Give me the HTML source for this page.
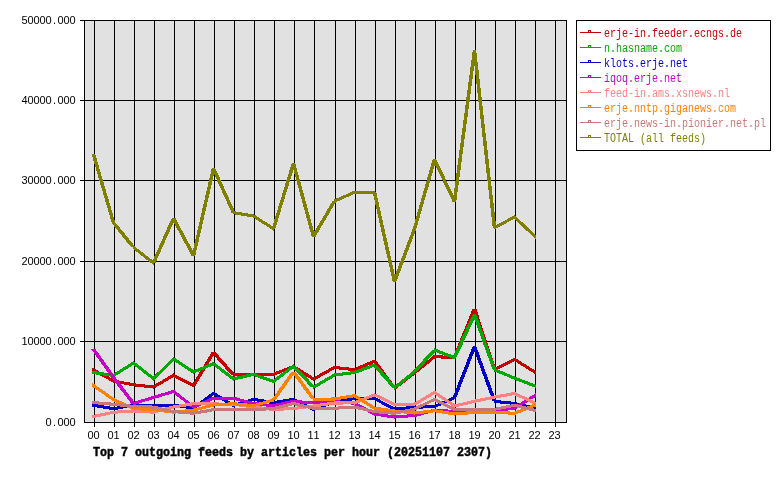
<!DOCTYPE html>
<html><head><meta charset="utf-8"><title>Top 7 outgoing feeds by articles per hour</title>
<style>html,body{margin:0;padding:0;background:#fff}svg{display:block}text{font-family:"Liberation Mono",monospace;font-size:12px}.b{font-weight:bold;stroke:#000;stroke-width:0.45px}.s{font-family:"Liberation Sans",sans-serif;font-size:11px}</style></head><body>
<svg width="780" height="480" viewBox="0 0 780 480">
<rect x="0" y="0" width="780" height="480" fill="#fff"/>
<g shape-rendering="crispEdges">
<rect x="84" y="20" width="483" height="403" fill="#e1e1e1"/>
<rect x="94" y="20" width="1" height="407" fill="#000"/>
<rect x="114" y="20" width="1" height="407" fill="#000"/>
<rect x="134" y="20" width="1" height="407" fill="#000"/>
<rect x="154" y="20" width="1" height="407" fill="#000"/>
<rect x="174" y="20" width="1" height="407" fill="#000"/>
<rect x="194" y="20" width="1" height="407" fill="#000"/>
<rect x="214" y="20" width="1" height="407" fill="#000"/>
<rect x="234" y="20" width="1" height="407" fill="#000"/>
<rect x="254" y="20" width="1" height="407" fill="#000"/>
<rect x="274" y="20" width="1" height="407" fill="#000"/>
<rect x="294" y="20" width="1" height="407" fill="#000"/>
<rect x="314" y="20" width="1" height="407" fill="#000"/>
<rect x="335" y="20" width="1" height="407" fill="#000"/>
<rect x="355" y="20" width="1" height="407" fill="#000"/>
<rect x="375" y="20" width="1" height="407" fill="#000"/>
<rect x="395" y="20" width="1" height="407" fill="#000"/>
<rect x="415" y="20" width="1" height="407" fill="#000"/>
<rect x="435" y="20" width="1" height="407" fill="#000"/>
<rect x="455" y="20" width="1" height="407" fill="#000"/>
<rect x="475" y="20" width="1" height="407" fill="#000"/>
<rect x="495" y="20" width="1" height="407" fill="#000"/>
<rect x="515" y="20" width="1" height="407" fill="#000"/>
<rect x="535" y="20" width="1" height="407" fill="#000"/>
<rect x="555" y="20" width="1" height="407" fill="#000"/>
<rect x="80" y="20" width="487" height="1" fill="#000"/>
<rect x="80" y="100" width="487" height="1" fill="#000"/>
<rect x="80" y="180" width="487" height="1" fill="#000"/>
<rect x="80" y="261" width="487" height="1" fill="#000"/>
<rect x="80" y="341" width="487" height="1" fill="#000"/>
<rect x="84" y="20" width="1" height="403" fill="#000"/>
<rect x="566" y="20" width="1" height="403" fill="#000"/>
<rect x="84" y="422" width="483" height="1" fill="#000"/>
</g>
<g shape-rendering="crispEdges" stroke="none">
<path fill="#c80000" d="M92.00,367.41L114.00,379.51L114.00,383.04L92.00,370.94ZM113.00,379.33L134.00,383.32L134.00,386.47L113.00,382.48ZM133.00,383.19L154.00,385.50L154.00,388.61L133.00,386.30ZM153.00,385.50L174.00,373.21L174.00,376.80L153.00,389.09ZM173.00,373.30L194.00,384.11L194.00,387.60L173.00,376.79ZM191.46,385.60L211.46,352.40L215.54,352.40L195.54,385.60ZM215.84,352.40L235.84,375.00L231.16,375.00L211.16,352.40ZM233.00,373.46L254.00,372.83L254.00,375.94L233.00,376.57ZM253.00,372.85L274.00,372.75L274.00,375.85L253.00,375.95ZM273.00,372.83L294.00,364.64L294.00,367.97L273.00,376.16ZM293.00,364.35L314.00,377.58L314.00,381.25L293.00,368.02ZM313.00,377.61L335.00,365.45L335.00,368.99L313.00,381.15ZM334.00,365.89L355.00,368.20L355.00,371.31L334.00,369.00ZM354.00,368.23L375.00,359.30L375.00,362.67L354.00,371.60ZM376.67,361.20L396.67,388.30L392.33,388.30L372.33,361.20ZM394.00,386.73L415.00,370.56L415.00,374.47L394.00,390.64ZM414.00,371.31L435.00,354.30L435.00,358.29L414.00,375.30ZM434.00,355.13L455.00,355.97L455.00,359.07L434.00,358.23ZM452.61,357.50L472.61,308.80L476.39,308.80L456.39,357.50ZM476.34,308.80L496.34,369.80L492.66,369.80L472.66,308.80ZM494.00,368.31L515.00,357.39L515.00,360.89L494.00,371.81ZM514.00,357.26L536.00,371.01L536.00,374.67L514.00,360.92Z"/>
<path fill="#00aa00" d="M92.00,370.71L114.00,374.01L114.00,377.14L92.00,373.84ZM113.00,373.98L134.00,360.86L134.00,364.52L113.00,377.64ZM133.00,360.64L154.00,377.02L154.00,380.96L133.00,364.58ZM153.00,376.92L174.00,356.34L174.00,360.68L153.00,381.26ZM173.00,356.83L194.00,370.48L194.00,374.17L173.00,360.52ZM193.00,370.53L214.00,361.81L214.00,365.17L193.00,373.89ZM213.00,361.37L234.00,377.43L234.00,381.33L213.00,365.27ZM233.00,377.52L254.00,372.69L254.00,375.88L233.00,380.71ZM253.00,372.58L274.00,380.03L274.00,383.32L253.00,375.87ZM273.00,379.93L294.00,363.76L294.00,367.67L273.00,383.84ZM295.91,366.10L315.91,387.30L311.09,387.30L291.09,366.10ZM313.00,385.80L335.00,372.91L335.00,376.50L313.00,389.39ZM334.00,373.50L355.00,370.88L355.00,374.00L334.00,376.62ZM354.00,371.03L375.00,363.16L375.00,366.47L354.00,374.34ZM376.83,365.00L396.83,387.80L392.17,387.80L372.17,365.00ZM394.00,386.22L415.00,369.52L415.00,373.48L394.00,390.18ZM412.13,371.90L432.13,350.00L436.87,350.00L416.87,371.90ZM434.00,348.15L455.00,356.23L455.00,359.55L434.00,351.47ZM452.57,357.70L472.57,314.40L476.43,314.40L456.43,357.70ZM476.36,314.40L496.36,369.80L492.64,369.80L472.64,314.40ZM494.00,367.91L515.00,376.63L515.00,379.99L494.00,371.27ZM514.00,376.25L536.00,384.72L536.00,388.04L514.00,379.57Z"/>
<path fill="#0000c8" d="M92.00,403.47L114.00,407.21L114.00,410.36L92.00,406.62ZM113.00,407.22L134.00,403.33L134.00,406.48L113.00,410.37ZM133.00,403.44L154.00,403.65L154.00,406.76L133.00,406.55ZM153.00,403.65L174.00,403.75L174.00,406.85L153.00,406.75ZM173.00,403.67L194.00,406.50L194.00,409.63L173.00,406.80ZM193.00,406.45L214.00,391.22L214.00,395.05L193.00,410.28ZM213.00,391.39L234.00,403.99L234.00,407.61L213.00,395.01ZM233.00,404.03L254.00,397.52L254.00,400.77L233.00,407.28ZM253.00,397.65L274.00,401.11L274.00,404.25L253.00,400.79ZM273.00,401.11L294.00,397.65L294.00,400.79L273.00,404.25ZM293.00,397.31L314.00,408.02L314.00,411.49L293.00,400.78ZM313.00,408.03L335.00,400.18L335.00,403.47L313.00,411.32ZM334.00,400.51L355.00,396.84L355.00,399.99L334.00,403.66ZM354.00,396.95L375.00,396.95L375.00,400.05L354.00,400.05ZM374.00,396.47L395.00,407.76L395.00,411.28L374.00,399.99ZM394.00,407.74L415.00,405.59L415.00,408.71L394.00,410.86ZM414.00,405.66L435.00,405.03L435.00,408.14L414.00,408.77ZM434.00,405.12L455.00,395.57L455.00,398.98L434.00,408.53ZM452.62,397.50L472.62,346.40L476.38,346.40L456.38,397.50ZM476.36,346.40L496.36,401.30L492.64,401.30L472.64,346.40ZM494.00,399.69L515.00,402.00L515.00,405.11L494.00,402.80ZM514.00,401.80L536.00,406.75L536.00,409.93L514.00,404.98Z"/>
<path fill="#c800c8" d="M95.65,349.40L115.65,377.50L111.35,377.50L91.35,349.40ZM115.70,377.50L135.70,403.60L131.30,403.60L111.30,377.50ZM133.00,402.13L154.00,395.62L154.00,398.87L133.00,405.38ZM153.00,395.93L174.00,389.74L174.00,392.97L153.00,399.16ZM173.00,389.15L194.00,405.43L194.00,409.35L173.00,393.07ZM193.00,405.53L214.00,396.39L214.00,399.77L193.00,408.91ZM213.00,396.75L234.00,396.75L234.00,399.85L213.00,399.85ZM233.00,396.57L254.00,402.03L254.00,405.23L233.00,399.77ZM253.00,401.88L274.00,404.25L274.00,407.37L253.00,405.00ZM273.00,404.27L294.00,399.60L294.00,402.78L273.00,407.45ZM293.00,399.70L314.00,401.49L314.00,404.60L293.00,402.81ZM313.00,401.48L335.00,400.01L335.00,403.12L313.00,404.59ZM334.00,400.00L355.00,401.74L355.00,404.85L334.00,403.11ZM354.00,401.22L375.00,412.51L375.00,416.03L354.00,404.74ZM374.00,412.36L395.00,415.51L395.00,418.64L374.00,415.49ZM394.00,415.48L415.00,413.91L415.00,417.02L394.00,418.59ZM414.00,414.03L435.00,408.57L435.00,411.77L414.00,417.23ZM434.00,408.72L455.00,409.88L455.00,412.98L434.00,411.82ZM454.00,409.86L475.00,409.44L475.00,412.54L454.00,412.96ZM474.00,409.46L495.00,408.83L495.00,411.94L474.00,412.57ZM494.00,408.89L515.00,406.64L515.00,409.76L494.00,412.01ZM514.00,406.73L536.00,392.98L536.00,396.64L514.00,410.39Z"/>
<path fill="#ff8080" d="M92.00,415.13L114.00,410.62L114.00,413.78L92.00,418.29ZM113.00,410.78L134.00,409.31L134.00,412.42L113.00,413.89ZM133.00,409.31L154.00,410.68L154.00,413.79L133.00,412.42ZM153.00,410.73L174.00,405.27L174.00,408.47L153.00,413.93ZM173.00,405.51L194.00,401.94L194.00,405.09L173.00,408.66ZM193.00,402.04L214.00,402.46L214.00,405.56L193.00,405.14ZM213.00,402.44L234.00,402.65L234.00,405.76L213.00,405.55ZM233.00,402.56L254.00,405.50L254.00,408.64L233.00,405.70ZM253.00,405.38L274.00,408.00L274.00,411.12L253.00,408.50ZM273.00,407.97L294.00,406.92L294.00,410.03L273.00,411.08ZM293.00,407.00L314.00,404.38L314.00,407.50L293.00,410.12ZM313.00,404.51L335.00,401.36L335.00,404.49L313.00,407.64ZM334.00,401.45L355.00,401.35L355.00,404.45L334.00,404.55ZM354.00,401.43L375.00,392.93L375.00,396.27L354.00,404.77ZM374.00,392.84L395.00,402.92L395.00,406.36L374.00,396.28ZM394.00,402.85L415.00,402.75L415.00,405.85L394.00,405.95ZM414.00,402.80L435.00,390.41L435.00,394.00L414.00,406.39ZM434.00,390.29L455.00,404.47L455.00,408.21L434.00,394.03ZM454.00,404.53L475.00,399.59L475.00,402.77L454.00,407.71ZM474.00,399.82L495.00,395.41L495.00,398.58L474.00,402.99ZM494.00,395.62L515.00,391.84L515.00,394.98L494.00,398.76ZM514.00,391.56L536.00,401.79L536.00,405.21L514.00,394.98Z"/>
<path fill="#ff8000" d="M92.00,382.78L114.00,397.96L114.00,401.73L92.00,386.55ZM113.00,397.57L134.00,407.12L134.00,410.53L113.00,400.98ZM133.00,407.03L154.00,407.97L154.00,411.07L133.00,410.13ZM153.00,407.87L174.00,410.70L174.00,413.83L153.00,411.00ZM173.00,410.69L194.00,408.59L194.00,411.71L173.00,413.81ZM193.00,408.73L214.00,403.27L214.00,406.47L193.00,411.93ZM213.00,403.48L234.00,402.11L234.00,405.22L213.00,406.59ZM233.00,402.09L254.00,404.24L254.00,407.36L233.00,405.21ZM253.00,404.28L274.00,398.24L274.00,401.47L253.00,407.51ZM271.35,400.00L291.35,371.80L295.65,371.80L275.65,400.00ZM295.66,371.80L315.66,399.30L311.34,399.30L291.34,371.80ZM313.00,397.76L335.00,397.44L335.00,400.54L313.00,400.86ZM334.00,397.51L355.00,394.05L355.00,397.19L334.00,400.65ZM354.00,393.56L375.00,406.68L375.00,410.34L354.00,397.22ZM374.00,406.56L395.00,409.50L395.00,412.64L374.00,409.70ZM394.00,409.39L415.00,411.49L415.00,414.61L394.00,412.51ZM414.00,411.50L435.00,409.13L435.00,412.25L414.00,414.62ZM434.00,409.10L455.00,412.51L455.00,415.65L434.00,412.24ZM454.00,412.49L475.00,410.81L475.00,413.91L454.00,415.59ZM474.00,410.85L495.00,410.85L495.00,413.95L474.00,413.95ZM494.00,410.83L515.00,411.72L515.00,414.82L494.00,413.93ZM514.00,411.78L536.00,403.04L536.00,406.37L514.00,415.12Z"/>
<path fill="#c87878" d="M92.00,400.92L114.00,402.79L114.00,405.90L92.00,404.03ZM113.00,402.69L134.00,404.89L134.00,408.01L113.00,405.81ZM133.00,404.83L154.00,405.57L154.00,408.67L133.00,407.93ZM153.00,405.40L174.00,410.12L174.00,413.30L153.00,408.58ZM173.00,410.00L194.00,411.74L194.00,414.85L173.00,413.11ZM193.00,411.76L214.00,408.04L214.00,411.19L193.00,414.91ZM213.00,408.15L234.00,408.15L234.00,411.25L213.00,411.25ZM233.00,408.15L254.00,408.15L254.00,411.25L233.00,411.25ZM253.00,408.18L274.00,406.92L274.00,410.02L253.00,411.28ZM273.00,407.03L294.00,401.88L294.00,405.07L273.00,410.22ZM293.00,401.89L314.00,406.77L314.00,409.96L293.00,405.08ZM313.00,406.70L335.00,406.70L335.00,409.80L313.00,409.80ZM334.00,406.73L355.00,405.42L355.00,408.52L334.00,409.83ZM354.00,405.29L375.00,410.12L375.00,413.31L354.00,408.48ZM374.00,410.00L395.00,411.74L395.00,414.85L374.00,413.11ZM394.00,411.77L415.00,407.52L415.00,410.68L394.00,414.93ZM414.00,407.72L435.00,397.32L435.00,400.78L414.00,411.18ZM434.00,397.32L455.00,407.82L455.00,411.28L434.00,400.78ZM454.00,407.75L475.00,407.75L475.00,410.85L454.00,410.85ZM474.00,407.75L495.00,407.75L495.00,410.85L474.00,410.85ZM494.00,407.82L515.00,403.62L515.00,406.78L494.00,410.98ZM514.00,403.58L536.00,409.08L536.00,412.27L514.00,406.77Z"/>
<path fill="#808000" d="M95.32,154.40L115.32,222.70L111.68,222.70L91.68,154.40ZM115.75,222.70L135.75,247.40L131.25,247.40L111.25,222.70ZM133.00,245.04L154.00,261.42L154.00,265.36L133.00,248.98ZM151.58,263.00L171.58,218.40L175.42,218.40L155.42,263.00ZM175.49,218.40L195.49,255.60L191.51,255.60L171.51,218.40ZM191.70,255.60L211.70,168.40L215.30,168.40L195.30,255.60ZM215.42,168.40L235.42,212.70L231.58,212.70L211.58,168.40ZM233.00,211.05L254.00,214.51L254.00,217.65L233.00,214.19ZM253.00,213.85L274.00,227.18L274.00,230.85L253.00,217.52ZM271.67,228.70L291.67,163.40L295.33,163.40L275.33,228.70ZM295.31,163.40L315.31,236.60L311.69,236.60L291.69,163.40ZM311.47,236.60L332.47,201.00L336.53,201.00L315.53,236.60ZM334.00,199.53L355.00,190.39L355.00,193.77L334.00,202.91ZM354.00,190.75L375.00,190.75L375.00,193.85L354.00,193.85ZM376.29,192.30L396.29,281.60L392.71,281.60L372.71,192.30ZM392.63,281.60L412.63,229.00L416.37,229.00L396.37,281.60ZM412.68,229.00L432.68,159.40L436.32,159.40L416.32,229.00ZM436.44,159.40L456.44,201.60L452.56,201.60L432.56,159.40ZM452.73,201.60L472.73,50.40L476.27,50.40L456.27,201.60ZM476.26,50.40L496.26,227.70L492.74,227.70L472.74,50.40ZM494.00,226.21L515.00,214.97L515.00,218.49L494.00,229.73ZM514.00,214.39L536.00,235.29L536.00,239.56L514.00,218.66Z"/>
</g>
<text class="s" text-anchor="middle" x="24.5 30.5 36.5 42.5 48.5 54.5 60.5 66.5 72.5" y="24">50000.000</text>
<text class="s" text-anchor="middle" x="24.5 30.5 36.5 42.5 48.5 54.5 60.5 66.5 72.5" y="104">40000.000</text>
<text class="s" text-anchor="middle" x="24.5 30.5 36.5 42.5 48.5 54.5 60.5 66.5 72.5" y="184">30000.000</text>
<text class="s" text-anchor="middle" x="24.5 30.5 36.5 42.5 48.5 54.5 60.5 66.5 72.5" y="265">20000.000</text>
<text class="s" text-anchor="middle" x="24.5 30.5 36.5 42.5 48.5 54.5 60.5 66.5 72.5" y="345">10000.000</text>
<text class="s" text-anchor="middle" x="48.5 54.5 60.5 66.5 72.5" y="426">0.000</text>
<text class="s" text-anchor="middle" x="90.5 96.5" y="439">00</text>
<text class="s" text-anchor="middle" x="110.5 116.5" y="439">01</text>
<text class="s" text-anchor="middle" x="130.5 136.5" y="439">02</text>
<text class="s" text-anchor="middle" x="150.5 156.5" y="439">03</text>
<text class="s" text-anchor="middle" x="170.5 176.5" y="439">04</text>
<text class="s" text-anchor="middle" x="190.5 196.5" y="439">05</text>
<text class="s" text-anchor="middle" x="210.5 216.5" y="439">06</text>
<text class="s" text-anchor="middle" x="230.5 236.5" y="439">07</text>
<text class="s" text-anchor="middle" x="250.5 256.5" y="439">08</text>
<text class="s" text-anchor="middle" x="270.5 276.5" y="439">09</text>
<text class="s" text-anchor="middle" x="290.5 296.5" y="439">10</text>
<text class="s" text-anchor="middle" x="310.5 316.5" y="439">11</text>
<text class="s" text-anchor="middle" x="331.5 337.5" y="439">12</text>
<text class="s" text-anchor="middle" x="351.5 357.5" y="439">13</text>
<text class="s" text-anchor="middle" x="371.5 377.5" y="439">14</text>
<text class="s" text-anchor="middle" x="391.5 397.5" y="439">15</text>
<text class="s" text-anchor="middle" x="411.5 417.5" y="439">16</text>
<text class="s" text-anchor="middle" x="431.5 437.5" y="439">17</text>
<text class="s" text-anchor="middle" x="451.5 457.5" y="439">18</text>
<text class="s" text-anchor="middle" x="471.5 477.5" y="439">19</text>
<text class="s" text-anchor="middle" x="491.5 497.5" y="439">20</text>
<text class="s" text-anchor="middle" x="511.5 517.5" y="439">21</text>
<text class="s" text-anchor="middle" x="531.5 537.5" y="439">22</text>
<text class="s" text-anchor="middle" x="551.5 557.5" y="439">23</text>
<text class="b" x="93" y="456" textLength="399" lengthAdjust="spacingAndGlyphs">Top 7 outgoing feeds by articles per hour (20251107 2307)</text>
<g shape-rendering="crispEdges"><rect x="576.5" y="20.5" width="194" height="130" fill="#fff" stroke="#000" stroke-width="1"/>
<rect x="580" y="32" width="21" height="1" fill="#c80000"/>
<rect x="588" y="30" width="3" height="3" fill="#c80000"/><rect x="589" y="31" width="1" height="1" fill="#fff"/>
<rect x="580" y="47" width="21" height="1" fill="#00aa00"/>
<rect x="588" y="45" width="3" height="3" fill="#00aa00"/><rect x="589" y="46" width="1" height="1" fill="#fff"/>
<rect x="580" y="62" width="21" height="1" fill="#0000c8"/>
<rect x="588" y="60" width="3" height="3" fill="#0000c8"/><rect x="589" y="61" width="1" height="1" fill="#fff"/>
<rect x="580" y="77" width="21" height="1" fill="#c800c8"/>
<rect x="588" y="75" width="3" height="3" fill="#c800c8"/><rect x="589" y="76" width="1" height="1" fill="#fff"/>
<rect x="580" y="92" width="21" height="1" fill="#ff8080"/>
<rect x="588" y="90" width="3" height="3" fill="#ff8080"/><rect x="589" y="91" width="1" height="1" fill="#fff"/>
<rect x="580" y="107" width="21" height="1" fill="#ff8000"/>
<rect x="588" y="105" width="3" height="3" fill="#ff8000"/><rect x="589" y="106" width="1" height="1" fill="#fff"/>
<rect x="580" y="122" width="21" height="1" fill="#c87878"/>
<rect x="588" y="120" width="3" height="3" fill="#c87878"/><rect x="589" y="121" width="1" height="1" fill="#fff"/>
<rect x="580" y="137" width="21" height="1" fill="#808000"/>
<rect x="588" y="135" width="3" height="3" fill="#808000"/><rect x="589" y="136" width="1" height="1" fill="#fff"/>
</g>
<text x="604" y="37" fill="#c80000" textLength="138" lengthAdjust="spacingAndGlyphs">erje-in.feeder.ecngs.de</text>
<text x="604" y="52" fill="#00aa00" textLength="78" lengthAdjust="spacingAndGlyphs">n.hasname.com</text>
<text x="604" y="67" fill="#0000c8" textLength="84" lengthAdjust="spacingAndGlyphs">klots.erje.net</text>
<text x="604" y="82" fill="#c800c8" textLength="78" lengthAdjust="spacingAndGlyphs">iqoq.erje.net</text>
<text x="604" y="97" fill="#ff8080" textLength="126" lengthAdjust="spacingAndGlyphs">feed-in.ams.xsnews.nl</text>
<text x="604" y="112" fill="#ff8000" textLength="132" lengthAdjust="spacingAndGlyphs">erje.nntp.giganews.com</text>
<text x="604" y="127" fill="#c87878" textLength="162" lengthAdjust="spacingAndGlyphs">erje.news-in.pionier.net.pl</text>
<text x="604" y="142" fill="#808000" textLength="102" lengthAdjust="spacingAndGlyphs">TOTAL (all feeds)</text>
</svg></body></html>
